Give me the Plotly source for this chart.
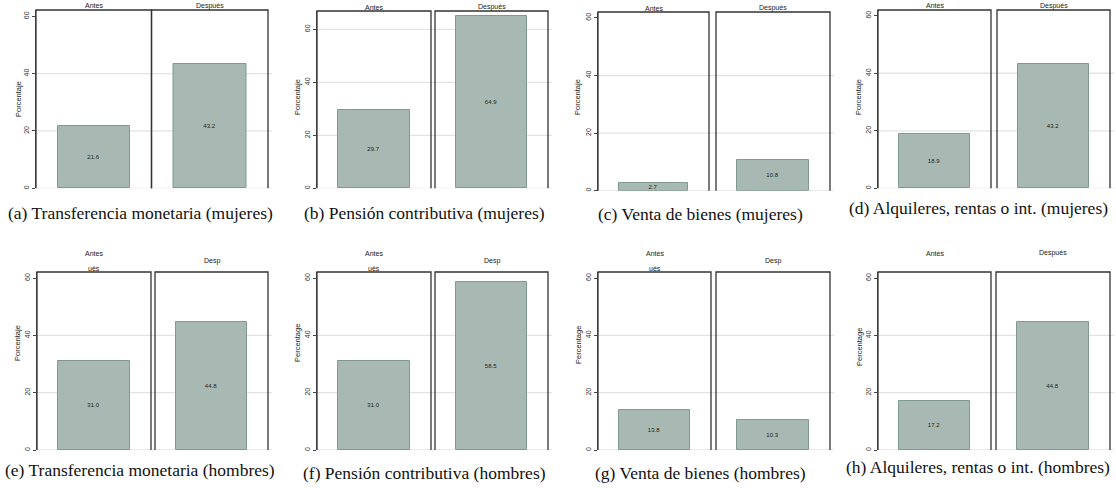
import plotly.graph_objects as go

# ---- data -------------------------------------------------------------
captions = [
    "(a) Transferencia monetaria (mujeres)",
    "(b) Pensión contributiva (mujeres)",
    "(c) Venta de bienes (mujeres)",
    "(d) Alquileres, rentas o int. (mujeres)",
    "(e) Transferencia monetaria (hombres)",
    "(f) Pensión contributiva (hombres)",
    "(g) Venta de bienes (hombres)",
    "(h) Alquileres, rentas o int. (hombres)",
]
antes = [21.6, 29.7, 2.7, 18.9, 31.0, 31.0, 13.8, 17.2]
despues = [43.2, 64.9, 10.8, 43.2, 44.8, 58.5, 10.3, 44.8]
y_titles = ["Porcentaje"] * 5 + ["Percentage"] * 3
y_ticks = [0, 20, 40, 60]

# strip labels: (text, sub-panel 0/1, px above frame)
strips_top = [("Antes", 0, 4), ("Después", 1, 4)]
strips_glitch = [("Antes", 0, 19), ("ués", 0, 4), ("Desp", 1, 11)]
strips_h = [("Antes", 0, 19), ("Después", 1, 19)]
strip_sets = [strips_top] * 4 + [strips_glitch] * 3 + [strips_h]

# ---- geometry (pixels) -------------------------------------------------
W, H = 1116, 488
left_sub = [(36, 151.5), (317, 431), (598, 709), (878, 991),
            (37, 151), (317, 431), (598, 711), (878, 991)]
right_sub = [(151.5, 268), (435, 548), (716, 830), (997, 1110),
             (155, 268), (435, 548), (716, 830), (996, 1110)]
frame_top = [10, 11, 12, 10, 272, 272, 272, 272]
frame_bot = [188.3, 188.3, 190.7, 188.3, 450, 450, 450, 450]
y_max = [62.2, 66.9, 62.05, 62.0, 62.1, 62.1, 62.1, 62.1]
ytitle_pos = [(18, 99), (298, 97), (578, 97), (859, 97),
              (17, 343), (297, 343), (578, 345), (859, 347)]
caption_pos = [(140, 213), (424, 213), (700, 214), (978, 208),
               (140, 470), (424, 473), (700, 473), (978, 467)]


def fx(px):
    return px / W


def fy(py):
    return 1 - py / H


BAR_FILL = "#a7b9b2"
BAR_EDGE = "#7f9a8f"
FRAME = "#333333"
GRID = "#e3e3e3"
SANS = "Liberation Sans, Arial, sans-serif"
SERIF = "Liberation Serif, Times New Roman, serif"

fig = go.Figure()
layout = {}
shapes = []
annotations = []

for p in range(8):
    vals = [antes[p], despues[p]]
    for s, (x0, x1) in enumerate([left_sub[p], right_sub[p]]):
        k = 2 * p + s + 1
        xa = "x" if k == 1 else f"x{k}"
        ya = "y" if k == 1 else f"y{k}"
        v = vals[s]
        fig.add_trace(go.Bar(
            x=[0], y=[v], xaxis=xa, yaxis=ya, width=0.625,
            marker=dict(color=BAR_FILL, line=dict(color=BAR_EDGE, width=1)),
            text=[f"{v:.1f}"], textposition="inside", insidetextanchor="middle",
            constraintext="none",
            textfont=dict(family=SANS, size=6, color="#222222"),
            hoverinfo="skip", showlegend=False,
        ))
        layout[f"xaxis{k}"] = dict(
            domain=[fx(x0), fx(x1)], range=[-0.5, 0.5], anchor=ya,
            showgrid=False, zeroline=False, showticklabels=False,
            ticks="", showline=False, fixedrange=True,
        )
        yax = dict(
            domain=[fy(frame_bot[p]), fy(frame_top[p])], range=[0, y_max[p]],
            anchor=xa, showgrid=False, zeroline=False, fixedrange=True,
            tickvals=y_ticks,
        )
        if s == 0:
            yax.update(
                showticklabels=True, ticks="outside", ticklen=3, tickwidth=1,
                tickcolor="#444444", tickangle=-90,
                tickfont=dict(family=SANS, size=7, color="#333333"),
                showline=True, linecolor="#555555", linewidth=1.4,
            )
        else:
            yax.update(showticklabels=False, ticks="", showline=False)
        layout[f"yaxis{k}"] = yax

        # panel frame: left, top and right edges
        shapes.append(dict(
            type="path", xref=f"{xa} domain", yref=f"{ya} domain",
            path="M 0 0 L 0 1 L 1 1 L 1 0",
            line=dict(color=FRAME, width=1.3), layer="above",
        ))

    # horizontal grid lines across both sub-panels
    ya_left = "y" if p == 0 else f"y{2 * p + 1}"
    for g in [0, 20, 40, 60]:
        if g == 60 and y_max[p] < 64:
            continue
        shapes.append(dict(
            type="line", xref="paper", yref=ya_left,
            x0=fx(left_sub[p][0]), x1=fx(right_sub[p][1] + 4), y0=g, y1=g,
            line=dict(color=GRID, width=1.3), layer="below",
        ))

    # strip labels
    for text, s, off in strip_sets[p]:
        k = 2 * p + s + 1
        xa = "x" if k == 1 else f"x{k}"
        annotations.append(dict(
            text=text, xref=f"{xa} domain", x=0.5, yref="paper",
            y=fy(frame_top[p] - off), xanchor="center", yanchor="middle",
            showarrow=False, font=dict(family=SANS, size=7, color="#222222"),
        ))

    # y-axis title
    tx, ty = ytitle_pos[p]
    annotations.append(dict(
        text=y_titles[p], xref="paper", yref="paper", x=fx(tx), y=fy(ty),
        xanchor="center", yanchor="middle", textangle=-90, showarrow=False,
        font=dict(family=SANS, size=7.5, color="#222222"),
    ))

    # caption
    cx, cy = caption_pos[p]
    annotations.append(dict(
        text=captions[p], xref="paper", yref="paper", x=fx(cx), y=fy(cy),
        xanchor="center", yanchor="middle", showarrow=False,
        font=dict(family=SERIF, size=17.5, color="#111111"),
    ))

fig.update_layout(
    width=W, height=H, margin=dict(l=0, r=0, t=0, b=0),
    paper_bgcolor="white", plot_bgcolor="rgba(0,0,0,0)",
    shapes=shapes, annotations=annotations, bargap=0, **layout,
)

fig.write_html("out.html", config={"displayModeBar": False})
